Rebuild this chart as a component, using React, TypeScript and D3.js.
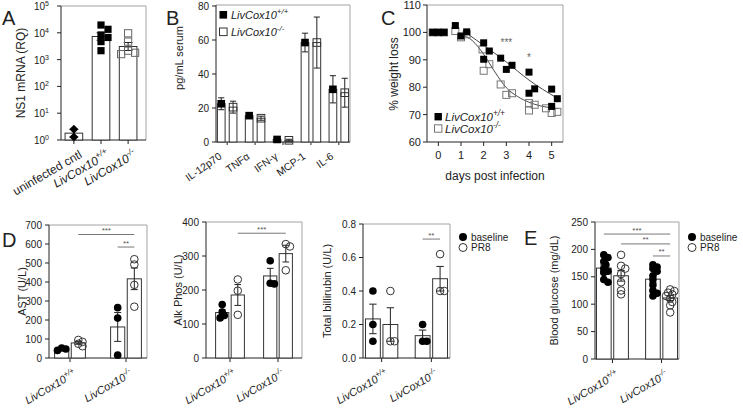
import React from 'react';
import * as d3 from 'd3';

const FONT = "'Liberation Sans', Arial, Helvetica, sans-serif";
const FRAME = '#a3a3a3';
const INK = '#222';

// ---------- Panel A ----------
const aCats = ['uninfected cntl', 'LivCox10+/+', 'LivCox10-/-'];
const aUninfected = [2.5, 1.3];
const aWT = [19500, 13500, 8300, 6700, 4700, 2150];
const aKO = [9600, 4700, 2150, 1800, 1600];
const aTickExps = [0, 1, 2, 3, 4, 5];

// ---------- Panel B ----------
const bCytokines = ['IL-12p70', 'TNFα', 'IFN-γ', 'MCP-1', 'IL-6'];
const bWTMean = [22.5, 15.5, 1.5, 58.5, 31];
const bWTErr = [3.5, 0.8, 0.3, 5.5, 8];
const bKOMean = [20.5, 14, 1, 58.5, 29];
const bKOErr = [3.5, 1.2, 0.6, 15, 8.5];
const bTicks = [0, 20, 40, 60, 80];
const bSeries = ['LivCox10+/+', 'LivCox10-/-'];

// ---------- Panel C ----------
const cTicksX = [0, 1, 2, 3, 4, 5];
const cTicksY = [60, 70, 80, 90, 100, 110];
const cWTDays = [-0.25, 0, 0.25, 0.75, 1, 1.25, 2, 2, 2.25, 2.75, 3, 3.25, 4, 4, 4.25, 5, 5, 5.25];
const cWTVals = [100, 100, 100, 102.5, 98.7, 100.2, 96.2, 90.2, 93.2, 90.6, 86.5, 88, 85.5, 77.8, 79.4, 79.3, 73, 75.8];
const cKODays = [-0.25, 0, 0.25, 0.75, 1, 1.25, 1.95, 2, 2.25, 2.75, 3, 3.25, 4, 4, 4.25, 4.75, 5, 5.25];
const cKOVals = [100, 100, 100, 100.5, 98.2, 99.3, 93.8, 86, 88.4, 81, 77.2, 77.8, 71.5, 74.2, 73.6, 72.3, 70.6, 71];
const cWTFitDays = [1.25, 2, 3, 4, 5.2];
const cWTFitVals = [99.7, 95.3, 89.2, 82.6, 76.2];
const cKOFitDays = [1, 1.5, 2, 2.5, 3, 3.5, 4, 4.5, 5.3];
const cKOFitVals = [99.3, 97, 92, 85.5, 79.8, 76.6, 74.5, 73.2, 72.2];
const cSigDays = [3, 4];
const cSigVals = [96.6, 91];
const cSigText = ['***', '*'];

// ---------- Panels D / E ----------
const deGroups = ['LivCox10+/+', 'LivCox10-/-'];
const deConditions = ['baseline', 'PR8'];

const astWTBase = [53, 47, 40];
const astWTPR8 = [95, 85, 75, 62];
const astKOBase = [265, 210, 15];
const astKOPR8 = [520, 492, 385, 270];
const astTicks = [0, 100, 200, 300, 400, 500, 600, 700];

const alkWTBase = [157, 135, 125, 118];
const alkWTPR8 = [231, 198, 127];
const alkKOBase = [286, 220, 218];
const alkKOPR8 = [335, 328, 258];
const alkTicks = [0, 100, 200, 300, 400];

const biliWTBase = [0.4, 0.2, 0.1];
const biliWTPR8 = [0.4, 0.1, 0.1];
const biliKOBase = [0.2, 0.1, 0.1];
const biliKOPR8 = [0.62, 0.4, 0.4];
const biliTicks = [0, 0.2, 0.4, 0.6, 0.8];

const gluWTBase = [190, 185, 178, 172, 165, 160, 158, 145, 140];
const gluWTPR8 = [190, 170, 165, 155, 140, 125, 118];
const gluKOBase = [172, 168, 165, 160, 152, 145, 135, 125, 120, 115];
const gluKOPR8 = [127, 124, 121, 118, 115, 110, 104, 98, 85];
const gluTicks = [0, 50, 100, 150, 200, 250];

type Sig = { a: [number, number]; b: [number, number]; v: number; t: string };
const astSig: Sig[] = [
  { a: [0, 1], b: [1, 1], v: 650, t: '***' },
  { a: [1, 0], b: [1, 1], v: 584, t: '**' },
];
const alkSig: Sig[] = [{ a: [0, 1], b: [1, 1], v: 367, t: '***' }];
const biliSig: Sig[] = [{ a: [1, 0], b: [1, 1], v: 0.71, t: '**' }];
const gluSig: Sig[] = [
  { a: [0, 0], b: [1, 1], v: 228, t: '***' },
  { a: [0, 1], b: [1, 1], v: 210, t: '**' },
  { a: [1, 0], b: [1, 1], v: 188, t: '**' },
];

// ---------- helpers ----------
function splitLabel(s: string) {
  const m = s.match(/^(LivCox10)(.*)$/);
  if (m) return { main: m[1], sup: m[2], italic: true };
  return { main: s, sup: '', italic: false };
}

let measureCtx: any = null;
function textW(str: string, size: number, italic: boolean): number {
  if (!str) return 0;
  try {
    if (!measureCtx && typeof document !== 'undefined') {
      measureCtx = document.createElement('canvas').getContext('2d');
    }
    if (measureCtx) {
      measureCtx.font = `${italic ? 'italic ' : ''}${size}px 'Liberation Sans', Arial, sans-serif`;
      const w = measureCtx.measureText(str).width;
      if (isFinite(w) && w > 0) return w;
    }
  } catch (e) {
    // fall through
  }
  return str.length * size * 0.55;
}

// slanted label: every glyph placed along the slanted baseline, each glyph rotated
function rotLabel(key: string, px: number, py: number, deg: number, size: number, label: string) {
  const { main, sup, italic } = splitLabel(label);
  const supSize = size * 0.7;
  const a = (deg * Math.PI) / 180;
  const ux = Math.cos(a);
  const uy = -Math.sin(a);
  const vx = -Math.sin(a);
  const vy = -Math.cos(a);
  const wMain = textW(main, size, italic);
  const wSup = sup ? textW(sup, supSize, italic) : 0;
  const total = wMain + wSup;
  const sx = px - total * ux;
  const sy = py - total * uy;
  const mc = Array.from(main);
  const mx: string[] = [];
  const my: string[] = [];
  mc.forEach((_, i) => {
    const adv = textW(mc.slice(0, i).join(''), size, italic);
    mx.push((sx + adv * ux).toFixed(2));
    my.push((sy + adv * uy).toFixed(2));
  });
  const sc = Array.from(sup);
  const sxs: string[] = [];
  const sys: string[] = [];
  const shift = size * 0.42;
  sc.forEach((_, i) => {
    const adv = wMain + textW(sc.slice(0, i).join(''), supSize, italic);
    sxs.push((sx + adv * ux + shift * vx).toFixed(2));
    sys.push((sy + adv * uy + shift * vy).toFixed(2));
  });
  return (
    <text key={key} fontSize={size} fontStyle={italic ? 'italic' : undefined} fill={INK}>
      <tspan x={mx.join(' ')} y={my.join(' ')} rotate={String(-deg)}>{main}</tspan>
      {sup ? (
        <tspan x={sxs.join(' ')} y={sys.join(' ')} rotate={String(-deg)} fontSize={supSize}>
          {sup}
        </tspan>
      ) : null}
    </text>
  );
}

function LegendText({ x, y, size, label }: any) {
  const { main, sup, italic } = splitLabel(label);
  return (
    <text x={x} y={y} fontSize={size} fontStyle={italic ? 'italic' : 'normal'} fill={INK}>
      {main}
      {sup && (
        <tspan dy={-size * 0.42} fontSize={size * 0.72}>
          {sup}
        </tspan>
      )}
    </text>
  );
}

function YLabel({ x, y, size, text }: any) {
  return (
    <text transform={`translate(${x},${y}) rotate(-90)`} textAnchor="middle" fontSize={size} fill={INK}>
      {text}
    </text>
  );
}

type Pt = { x: number; y: number };
function swarm(ys: number[], cx: number, minDist: number, step: number, maxK = 3): Pt[] {
  const order = ys.map((y, i) => ({ y, i })).sort((a, b) => a.y - b.y);
  const placed: Pt[] = [];
  const out: Pt[] = new Array(ys.length);
  const ks = [0, 1, -1, 2, -2, 3, -3].filter((k) => Math.abs(k) <= maxK);
  for (const o of order) {
    let best = cx;
    let bestD = -1;
    for (const k of ks) {
      const xx = cx + k * step;
      const d = placed.length ? Math.min(...placed.map((p) => Math.hypot(p.x - xx, p.y - o.y))) : Infinity;
      if (d >= minDist) {
        best = xx;
        bestD = d;
        break;
      }
      if (d > bestD) {
        bestD = d;
        best = xx;
      }
    }
    const p = { x: best, y: o.y };
    placed.push(p);
    out[o.i] = p;
  }
  return out;
}

function ErrBar({ x, y1, y2, cap }: any) {
  return (
    <g stroke={INK} strokeWidth={1}>
      <line x1={x} x2={x} y1={y1} y2={y2} />
      <line x1={x - cap / 2} x2={x + cap / 2} y1={y1} y2={y1} />
      <line x1={x - cap / 2} x2={x + cap / 2} y1={y2} y2={y2} />
    </g>
  );
}

function Frame({ L, R, T, B }: any) {
  return (
    <g>
      <path d={`M${L},${T}H${R}V${B}`} fill="none" stroke={FRAME} strokeWidth={1} />
      <line x1={L} x2={L} y1={T} y2={B} stroke={INK} />
      <line x1={L} x2={R} y1={B} y2={B} stroke={INK} />
    </g>
  );
}

// ---------- Panel A ----------
function PanelA() {
  const L = 61, R = 146, T = 6, B = 140;
  const x = d3.scaleBand<string>().domain(aCats).range([L, 141]).paddingInner(0.35).paddingOuter(0.15);
  const y = d3.scaleLog().domain([1, 1e5]).range([B, T]);
  const groups = [aUninfected, aWT, aKO];
  const kinds = ['diamond', 'filled', 'open'];
  const bw = x.bandwidth();
  return (
    <g>
      <text x={2} y={25} fontSize={20} fill={INK}>A</text>
      <Frame L={L} R={R} T={T} B={B} />
      {aTickExps.map((e) => (
        <g key={e}>
          <line x1={L - 4} x2={L} y1={y(10 ** e)} y2={y(10 ** e)} stroke={INK} />
          <text x={L - 12} y={y(10 ** e) + 4} textAnchor="end" fontSize={10} fill={INK}>
            10
            <tspan dy={-4} fontSize={7}>{e}</tspan>
          </text>
        </g>
      ))}
      <YLabel x={25} y={73} size={12} text="NS1 mRNA (RQ)" />
      {aCats.map((c, i) => {
        const vals = groups[i];
        const logs = vals.map(Math.log10);
        const m = d3.mean(logs)!;
        const sem = d3.deviation(logs)! / Math.sqrt(vals.length);
        const cx = x(c)! + bw / 2;
        const pts = swarm(vals.map((v) => y(v)), cx, 6.5, 3.5, 2);
        return (
          <g key={c}>
            <rect x={x(c)} y={y(10 ** m)} width={bw} height={B - y(10 ** m)} fill="#fff" stroke="#333" />
            <ErrBar x={cx} y1={y(10 ** (m + sem))} y2={y(10 ** (m - sem))} cap={bw * 0.5} />
            {pts.map((p, j) =>
              kinds[i] === 'diamond' ? (
                <path key={j} d={`M${p.x},${p.y - 4.5}L${p.x + 4.5},${p.y}L${p.x},${p.y + 4.5}L${p.x - 4.5},${p.y}Z`} fill="#000" />
              ) : kinds[i] === 'filled' ? (
                <rect key={j} x={p.x - 3.6} y={p.y - 3.6} width={7.2} height={7.2} fill="#000" />
              ) : (
                <rect key={j} x={p.x - 3.6} y={p.y - 3.6} width={7.2} height={7.2} fill="none" stroke="#666" />
              )
            )}
            <line x1={cx} x2={cx} y1={B} y2={B + 4} stroke={INK} />
          </g>
        );
      })}
      {aCats.map((c, i) => rotLabel('la' + i, x(c)! + bw / 2 + 9, B + 17, 30, 12, c))}
    </g>
  );
}

// ---------- Panel B ----------
function PanelB() {
  const L = 216, R = 350, T = 6, B = 142;
  const x = d3.scaleBand<string>().domain(bCytokines).range([L, R]).paddingInner(0.3).paddingOuter(0.05);
  const xs = d3.scaleBand<string>().domain(bSeries).range([0, x.bandwidth()]).paddingInner(0.35);
  const y = d3.scaleLinear().domain([0, 80]).range([B, T]);
  const bw = xs.bandwidth();
  const means = [bWTMean, bKOMean];
  const errs = [bWTErr, bKOErr];
  return (
    <g>
      <text x={166} y={25} fontSize={20} fill={INK}>B</text>
      <Frame L={L} R={R} T={5} B={B} />
      {bTicks.map((t) => (
        <g key={t}>
          <line x1={L - 4} x2={L} y1={y(t)} y2={y(t)} stroke={INK} />
          <text x={L - 7} y={y(t) + 3.5} textAnchor="end" fontSize={10} fill={INK}>{t}</text>
        </g>
      ))}
      <YLabel x={183} y={58} size={11} text="pg/mL serum" />
      {bCytokines.map((c, i) => {
        const gx = x(c)!;
        return (
          <g key={c}>
            {bSeries.map((s, k) => {
              const bx = gx + xs(s)!;
              const cx = bx + bw / 2;
              const m = means[k][i];
              const e = errs[k][i];
              return (
                <g key={s}>
                  <rect x={bx} y={y(m)} width={bw} height={B - y(m)} fill="#fff" stroke="#333" />
                  <ErrBar x={cx} y1={y(m + e)} y2={y(Math.max(0, m - e))} cap={bw * 0.8} />
                  <rect
                    x={cx - 3.8}
                    y={y(m) - 3.8}
                    width={7.6}
                    height={7.6}
                    fill={k === 0 ? '#000' : 'none'}
                    stroke={k === 0 ? 'none' : '#333'}
                  />
                </g>
              );
            })}
            <line x1={gx + x.bandwidth() / 2} x2={gx + x.bandwidth() / 2} y1={B} y2={B + 3} stroke={INK} />
          </g>
        );
      })}
      {bCytokines.map((c, i) => rotLabel('lb' + i, x(c)! + x.bandwidth() / 2 - 4.5, B + 16, 35, 10.5, c))}
      {bSeries.map((s, k) => (
        <g key={s}>
          <rect x={219.5} y={11 + k * 17} width={7.6} height={7.6} fill={k === 0 ? '#000' : '#fff'} stroke={k === 0 ? 'none' : '#333'} />
          <LegendText x={231} y={19 + k * 17} size={11} label={s} />
        </g>
      ))}
    </g>
  );
}

// ---------- Panel C ----------
function PanelC() {
  const L = 427, R = 563, T = 5, B = 142;
  const x = d3.scaleLinear().domain([-0.5, 5.5]).range([L, R]);
  const y = d3.scaleLinear().domain([60, 110]).range([B, T]);
  const mk = (days: number[], vals: number[]) =>
    d3
      .line<number>()
      .x((d) => x(days[d]))
      .y((d) => y(vals[d]))
      .curve(d3.curveMonotoneX)(days.map((_, i) => i)) as string;
  const s = 7;
  return (
    <g>
      <text x={381} y={25} fontSize={20} fill={INK}>C</text>
      <Frame L={L} R={R} T={T} B={B} />
      {cTicksY.map((t) => (
        <g key={t}>
          <line x1={L - 4} x2={L} y1={y(t)} y2={y(t)} stroke={INK} />
          <text x={L - 6} y={y(t) + 4} textAnchor="end" fontSize={11} fill={INK}>{t}</text>
        </g>
      ))}
      {cTicksX.map((t) => (
        <g key={t}>
          <line x1={x(t)} x2={x(t)} y1={B} y2={B + 4} stroke={INK} />
          <text x={x(t)} y={B + 17} textAnchor="middle" fontSize={11} fill={INK}>{t}</text>
        </g>
      ))}
      <YLabel x={398} y={74} size={12} text="% weight loss" />
      <text x={(L + R) / 2} y={180} textAnchor="middle" fontSize={12} fill={INK}>days post infection</text>
      <path d={mk(cWTFitDays, cWTFitVals)} fill="none" stroke="#333" strokeWidth={0.9} />
      <path d={mk(cKOFitDays, cKOFitVals)} fill="none" stroke="#333" strokeWidth={0.9} />
      {cKODays.map((d, i) => (
        <rect key={'k' + i} x={x(d) - s / 2} y={y(cKOVals[i]) - s / 2} width={s} height={s} fill="none" stroke="#777" />
      ))}
      {cWTDays.map((d, i) => (
        <rect key={'w' + i} x={x(d) - s / 2} y={y(cWTVals[i]) - s / 2} width={s} height={s} fill="#000" />
      ))}
      {cSigDays.map((d, i) => (
        <text key={i} x={x(d)} y={y(cSigVals[i]) + 4} textAnchor="middle" fontSize={10} fill="#666">{cSigText[i]}</text>
      ))}
      {bSeries.map((sr, k) => (
        <g key={sr}>
          <rect x={434.5} y={113 + k * 11.8} width={7.4} height={7.4} fill={k === 0 ? '#000' : '#fff'} stroke={k === 0 ? 'none' : '#777'} />
          <LegendText x={445} y={121 + k * 11.8} size={11.5} label={sr} />
        </g>
      ))}
    </g>
  );
}

// ---------- Panels D / E ----------
function DotBar({ L, R, T, B, yMax, ticks, fmt, data, ylabel, ylabelX, pi, po, sig, letter, legend, id }: any) {
  const x = d3.scaleBand<string>().domain(deGroups).range([L, R]).paddingInner(pi).paddingOuter(po);
  const xs = d3.scaleBand<string>().domain(deConditions).range([0, x.bandwidth()]).paddingInner(0.15);
  const y = d3.scaleLinear().domain([0, yMax]).range([B, T]);
  const bw = xs.bandwidth();
  const r = 3.8;
  const cxOf = (g: number, c: number) => x(deGroups[g])! + xs(deConditions[c])! + bw / 2;
  return (
    <g>
      {letter && <text x={letter[0]} y={letter[1]} fontSize={20} fill={INK}>{letter[2]}</text>}
      <Frame L={L} R={R} T={T} B={B} />
      {ticks.map((t: number) => (
        <g key={t}>
          <line x1={L - 4} x2={L} y1={y(t)} y2={y(t)} stroke={INK} />
          <text x={L - 7} y={y(t) + 3.5} textAnchor="end" fontSize={10} fill={INK}>{fmt(t)}</text>
        </g>
      ))}
      <YLabel x={ylabelX} y={(T + B) / 2} size={11} text={ylabel} />
      {deGroups.map((g, gi) => {
        const gc = x(g)! + x.bandwidth() / 2;
        return (
          <g key={g}>
            {deConditions.map((c, ci) => {
              const vals: number[] = data[gi][ci];
              const m = d3.mean(vals)!;
              const sem = d3.deviation(vals)! / Math.sqrt(vals.length);
              const bx = x(g)! + xs(c)!;
              const cx = bx + bw / 2;
              const pts = swarm(vals.map((v) => y(v)), cx, r * 0.95, r * 0.55, 2);
              return (
                <g key={c}>
                  <rect x={bx} y={y(m)} width={bw} height={B - y(m)} fill="#fff" stroke="#333" />
                  <ErrBar x={cx} y1={y(m + sem)} y2={y(Math.max(0, m - sem))} cap={bw * 0.5} />
                  {pts.map((p, j) => (
                    <circle
                      key={j}
                      cx={p.x}
                      cy={p.y}
                      r={r}
                      fill={ci === 0 ? '#000' : 'none'}
                      stroke={ci === 0 ? 'none' : '#333'}
                    />
                  ))}
                </g>
              );
            })}
            <line x1={gc} x2={gc} y1={B} y2={B + 4} stroke={INK} />
          </g>
        );
      })}
      {deGroups.map((g, gi) => rotLabel(id + gi, x(g)! + x.bandwidth() / 2 + 7, B + 18, 30, 11, g))}
      {sig.map((s: Sig, i: number) => {
        const x1 = cxOf(s.a[0], s.a[1]);
        const x2 = cxOf(s.b[0], s.b[1]);
        return (
          <g key={i}>
            <line x1={x1} x2={x2} y1={y(s.v)} y2={y(s.v)} stroke="#555" strokeWidth={0.8} />
            <text x={(x1 + x2) / 2} y={y(s.v) - 1.5} textAnchor="middle" fontSize={8} fill="#555">{s.t}</text>
          </g>
        );
      })}
      {legend &&
        deConditions.map((c, ci) => (
          <g key={c}>
            <circle cx={legend[0]} cy={legend[1] + ci * 10.5} r={4} fill={ci === 0 ? '#000' : 'none'} stroke={ci === 0 ? 'none' : '#333'} />
            <text x={legend[0] + 8} y={legend[1] + ci * 10.5 + 3.5} fontSize={10} fill={INK}>{c}</text>
          </g>
        ))}
    </g>
  );
}

export default function App() {
  const f0 = (t: number) => String(t);
  const f1 = d3.format('.1f');
  return (
    <svg
      width={743}
      height={410}
      style={{ position: 'absolute', left: 0, top: 0, background: '#fff' }}
      fontFamily={FONT}
    >
      <rect width={743} height={410} fill="#fff" />
      <PanelA />
      <PanelB />
      <PanelC />
      <DotBar
        id="ast" L={49} R={147} T={225} B={358} yMax={700} ticks={astTicks} fmt={f0}
        data={[[astWTBase, astWTPR8], [astKOBase, astKOPR8]]}
        ylabel="AST (U/L)" ylabelX={26} pi={0.45} po={0.1} sig={astSig} letter={[2, 247, 'D']}
      />
      <DotBar
        id="alk" L={206} R={302} T={222} B={358} yMax={400} ticks={alkTicks} fmt={f0}
        data={[[alkWTBase, alkWTPR8], [alkKOBase, alkKOPR8]]}
        ylabel="Alk Phos (U/L)" ylabelX={182} pi={0.4} po={0.2} sig={alkSig}
      />
      <DotBar
        id="bili" L={363} R={450} T={224} B={358} yMax={0.8} ticks={biliTicks} fmt={f1}
        data={[[biliWTBase, biliWTPR8], [biliKOBase, biliKOPR8]]}
        ylabel="Total billirubin (U/L)" ylabelX={331} pi={0.35} po={0.05} sig={biliSig} legend={[463, 237]}
      />
      <DotBar
        id="glu" L={595} R={679} T={222} B={359} yMax={250} ticks={gluTicks} fmt={f0}
        data={[[gluWTBase, gluWTPR8], [gluKOBase, gluKOPR8]]}
        ylabel="Blood glucose (mg/dL)" ylabelX={558} pi={0.35} po={0.03} sig={gluSig}
        letter={[524, 245, 'E']} legend={[692, 237]}
      />
    </svg>
  );
}
